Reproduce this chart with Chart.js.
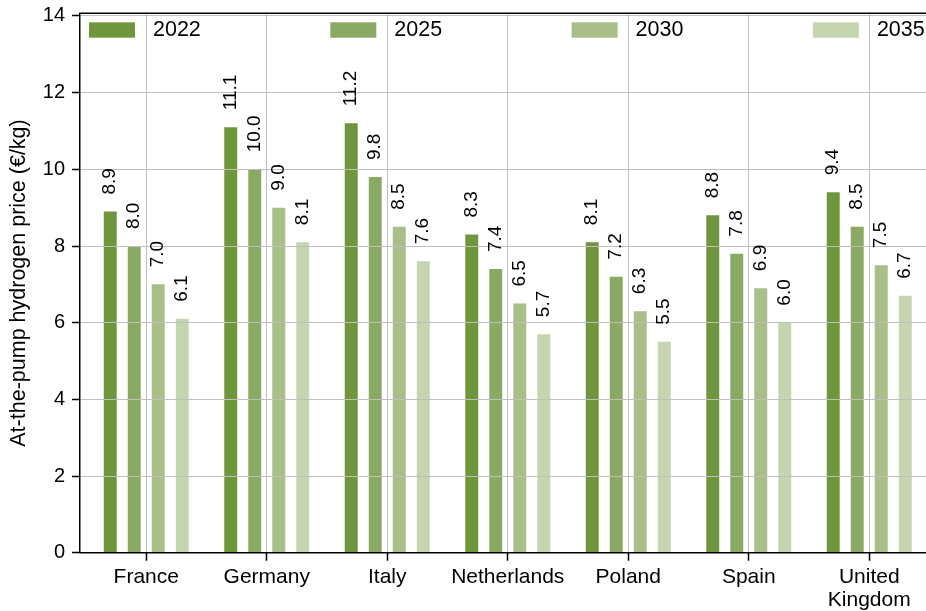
<!DOCTYPE html>
<html>
<head>
<meta charset="utf-8">
<script src="https://cdn.jsdelivr.net/npm/chart.js@4/dist/chart.umd.min.js"></script>
<style>
  html, body { margin: 0; padding: 0; background: #fff; overflow: hidden; }
  #c { display: block; }
</style>
</head>
<body>
<canvas id="c" width="926" height="611"></canvas>
<script>
const categories = ['France', 'Germany', 'Italy', 'Netherlands', 'Poland', 'Spain', ['United', 'Kingdom']];
const seriesNames = ['2022', '2025', '2030', '2035'];
const values2022 = [8.9, 11.1, 11.2, 8.3, 8.1, 8.8, 9.4];
const values2025 = [8.0, 10.0, 9.8, 7.4, 7.2, 7.8, 8.5];
const values2030 = [7.0, 9.0, 8.5, 6.5, 6.3, 6.9, 7.5];
const values2035 = [6.1, 8.1, 7.6, 5.7, 5.5, 6.0, 6.7];
const yTicks = [0, 2, 4, 6, 8, 10, 12, 14];
const yTitle = 'At-the-pump hydrogen price (€/kg)';

const colors = ['#6f963c', '#8aaa63', '#a8bf8a', '#c5d5b0'];
const allValues = [values2022, values2025, values2030, values2035];
const FONT = "'Liberation Sans', Arial, sans-serif";

const datasets = seriesNames.map((name, i) => ({
  label: name,
  data: allValues[i],
  backgroundColor: colors[i],
  borderWidth: 0,
  barPercentage: 0.54,
  categoryPercentage: 0.797
}));

const shiftX = {
  id: 'shiftX',
  afterLayout(chart) {
    const x = chart.scales.x;
    x.left = chart.chartArea.left + 6;
    x.right = chart.chartArea.right + 3.5;
    x.configure();
  }
};

const frame = {
  id: 'frame',
  afterDraw(chart) {
    const {ctx, chartArea: a} = chart;
    ctx.save();
    ctx.strokeStyle = '#000';
    ctx.lineWidth = 1.5;
    ctx.beginPath();
    ctx.moveTo(a.left - 0.75, a.top);
    ctx.lineTo(a.right, a.top);
    ctx.moveTo(a.left - 0.75, a.bottom);
    ctx.lineTo(a.right, a.bottom);
    ctx.stroke();
    ctx.restore();
  }
};

const valueLabels = {
  id: 'valueLabels',
  afterDraw(chart) {
    const ctx = chart.ctx;
    ctx.save();
    ctx.fillStyle = '#000';
    ctx.font = '19px ' + FONT;
    ctx.textAlign = 'left';
    ctx.textBaseline = 'alphabetic';
    chart.data.datasets.forEach((ds, di) => {
      const meta = chart.getDatasetMeta(di);
      meta.data.forEach((bar, i) => {
        ctx.save();
        ctx.translate(bar.x + 5, bar.y - 17);
        ctx.rotate(-Math.PI / 2);
        ctx.fillText(ds.data[i].toFixed(1), 0, 0);
        ctx.restore();
      });
    });
    ctx.restore();
  }
};

const customLegend = {
  id: 'customLegend',
  afterDraw(chart) {
    const {ctx, chartArea: a} = chart;
    ctx.save();
    ctx.font = '21.5px ' + FONT;
    ctx.textAlign = 'left';
    ctx.textBaseline = 'middle';
    const startX = a.left + 9;
    const step = 241.3;
    chart.data.datasets.forEach((ds, i) => {
      const x = startX + i * step;
      ctx.fillStyle = ds.backgroundColor;
      ctx.fillRect(x, 22.3, 46, 15.4);
      ctx.fillStyle = '#000';
      ctx.fillText(ds.label, x + 64, 30.5);
    });
    ctx.restore();
  }
};

new Chart(document.getElementById('c'), {
  type: 'bar',
  data: { labels: categories, datasets },
  plugins: [shiftX, frame, valueLabels, customLegend],
  options: {
    responsive: false,
    animation: false,
    devicePixelRatio: 1,
    layout: { padding: { top: 13.3, right: 0, bottom: 0, left: 0 } },
    plugins: { legend: { display: false }, tooltip: { enabled: false } },
    scales: {
      x: {
        offset: true,
        afterFit(scale) { scale.height = 58.3; scale.paddingLeft = 0; scale.paddingRight = 0; },
        grid: { offset: false, color: '#bfbfbf', lineWidth: 1, tickColor: '#000', tickLength: 8, tickWidth: 1.5, z: 1 },
        border: { display: false },
        ticks: { color: '#000', font: { family: FONT, size: 21, lineHeight: 1.095 }, padding: 5, maxRotation: 0, autoSkip: false }
      },
      y: {
        min: 0,
        max: 14.07,
        afterBuildTicks(scale) { scale.ticks = yTicks.map(v => ({ value: v })); },
        afterFit(scale) { scale.width = 80; scale.paddingTop = 0; scale.paddingBottom = 0; },
        grid: { color: '#bfbfbf', lineWidth: 1, tickColor: '#000', tickLength: 8, tickWidth: 1.5, z: 1 },
        border: { display: true, color: '#000', width: 1.5, z: 1 },
        ticks: { color: '#000', font: { family: FONT, size: 20 }, padding: 7 },
        title: { display: true, text: yTitle, color: '#000', font: { family: FONT, size: 21.5 }, padding: { top: 6, bottom: 0 } }
      }
    }
  }
});
</script>
</body>
</html>
